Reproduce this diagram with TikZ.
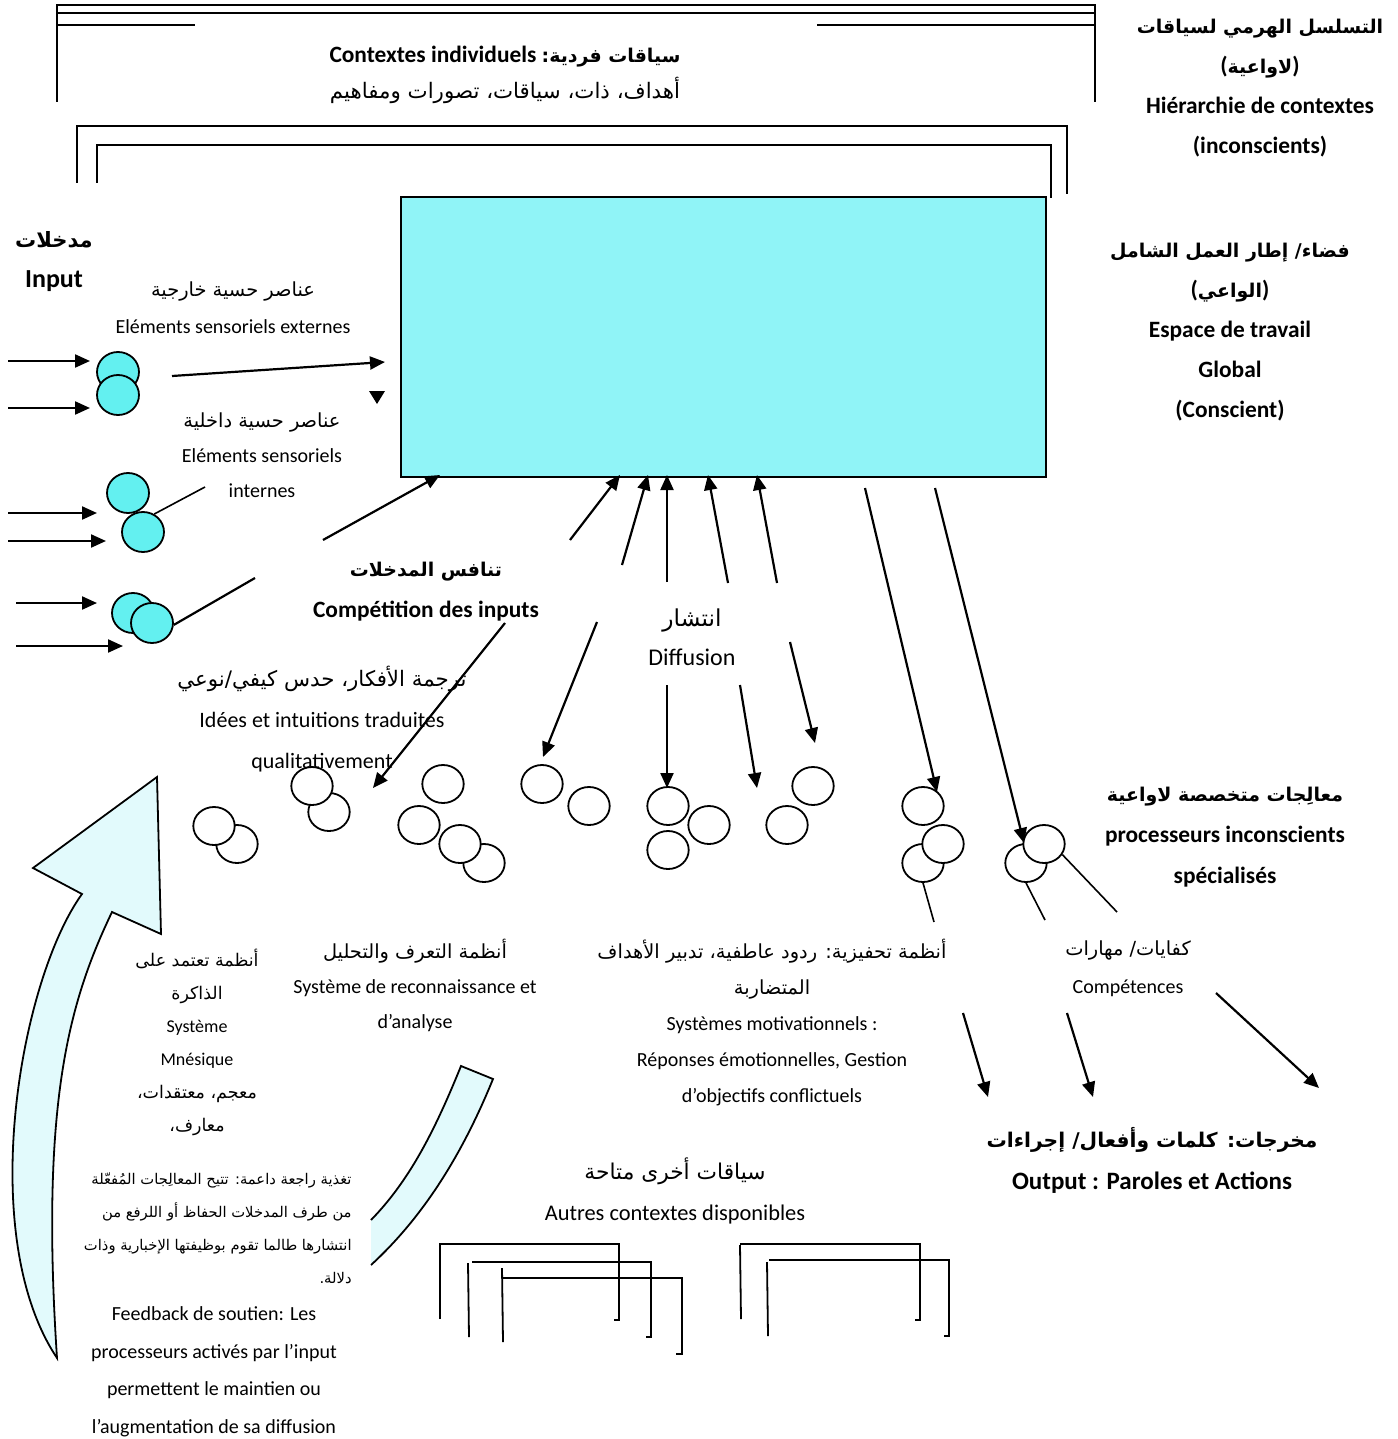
\documentclass[tikz,border=0pt]{standalone}
\usepackage{fontspec}
\setmainfont{Carlito}
\newfontfamily\arabicfont[Script=Arabic,Scale=0.97]{DejaVu Sans}
\newfontfamily\arabicbf[Script=Arabic,Scale=0.81]{DejaVu Sans Bold}
\TeXXeTstate=1
\usetikzlibrary{arrows.meta,shapes.geometric}
\definecolor{gwscyan}{RGB}{144,244,247}
\definecolor{inpcyan}{RGB}{99,240,240}
\definecolor{fbcyan}{RGB}{226,250,252}
\newcommand{\artxt}[1]{{\arabicfont\beginR #1\endR}}
\newcommand{\artxtb}[1]{{\arabicbf\beginR #1\endR}}

\begin{document}
\begin{tikzpicture}[x=0.5pt,y=-0.5pt,
    lbl/.style={align=center,inner sep=0pt,font=\fontsize{10}{#1}\selectfont},
    lbl/.default=19,
    blbl/.style={align=center,inner sep=0pt,font=\fontsize{11.7}{#1}\selectfont\bfseries},
    blbl/.default=20,
    small/.style={align=center,inner sep=0pt,font=\fontsize{9}{#1}\selectfont},
    small/.default=17,
    arr/.style={-{Triangle[length=7.5pt,width=6.5pt]},line width=1.1pt},
    frm/.style={line width=0.9pt},
    thinln/.style={line width=0.7pt},
    proc/.style={ellipse,draw,fill=white,line width=0.9pt,minimum width=20.7pt,minimum height=19pt,inner sep=0pt},
    inp/.style={proc,fill=inpcyan,minimum width=21pt,minimum height=20pt},
    fbarrow/.style={fill=fbcyan,draw,line width=0.9pt}]
\useasboundingbox (0,0) rectangle (1397,1439);

% feedback arrows
\draw[fbarrow] (57,1358) .. controls (-25,1235) and (20,980) .. (82,894) -- (33,868) -- (157,777)
    -- (161,934) -- (112,912) .. controls (70,1000) and (40,1100) .. (57,1358) -- cycle;
\fill[fbcyan] (371,1220) .. controls (410,1180) and (435,1130) .. (461,1066) -- (493,1079)
    .. controls (460,1160) and (420,1220) .. (371,1265) -- cycle;
\draw[line width=0.9pt] (371,1220) .. controls (410,1180) and (435,1130) .. (461,1066) -- (493,1079)
    .. controls (460,1160) and (420,1220) .. (371,1265);

% context frames (top)
\draw[frm] (57,102) -- (57,5) -- (1095,5) -- (1095,102);
\draw[frm] (57,13) -- (1095,13);
\draw[thinln] (57,25) -- (195,25) (817,25) -- (1095,25);
\draw[frm] (77,183) -- (77,126) -- (1067,126) -- (1067,194);
\draw[frm] (97,183) -- (97,145) -- (1051,145) -- (1051,198);

% other contexts (bottom)
\draw[frm] (440,1319) -- (440,1244) -- (619,1244) -- (619,1320) -- (614,1320);
\draw[frm] (468,1263) -- (469,1337) (472,1262) -- (651,1262) -- (651,1337) -- (646,1337);
\draw[frm] (502,1268) -- (503,1342) (502,1278) -- (682,1278) -- (682,1354) -- (676,1354);
\draw[frm] (740,1245) -- (741,1319) (740,1244) -- (920,1244) -- (920,1320) -- (915,1320);
\draw[frm] (767,1262) -- (768,1336) (769,1260) -- (949,1260) -- (949,1336) -- (944,1336);

% global workspace
\node[draw,fill=gwscyan,line width=0.9pt,minimum width=322.5pt,minimum height=140pt,inner sep=0pt] (gws) at (723.5,337) {};

% input elements
\node[inp] (c1a) at (118,372) {};
\node[inp] (c1b) at (118,395) {};
\node[inp] (c2a) at (128,493) {};
\node[inp] (c2b) at (143,532) {};
\node[inp] (c3a) at (133,613) {};
\node[inp] (c3b) at (152,623) {};

% unconscious processors
\node[proc] (p1b) at (237,844) {};
\node[proc] (p1a) at (214,826) {};
\node[proc] (p2b) at (329,812) {};
\node[proc] (p2a) at (312,786) {};
\node[proc] (p3) at (443,784) {};
\node[proc] (p4) at (419,825) {};
\node[proc] (p5b) at (484,863) {};
\node[proc] (p5a) at (460,844) {};
\node[proc] (p6a) at (542,784) {};
\node[proc] (p6b) at (589,806) {};
\node[proc] (p7a) at (668,806) {};
\node[proc] (p7b) at (709,825) {};
\node[proc] (p7c) at (668,850) {};
\node[proc] (p8a) at (813,786) {};
\node[proc] (p8b) at (787,825) {};
\node[proc] (p9a) at (923,806) {};
\node[proc] (p9c) at (923,863) {};
\node[proc] (p9b) at (943,844) {};
\node[proc] (p10b) at (1026,863) {};
\node[proc] (p10a) at (1044,844) {};

% input arrows
\foreach \n/\xa/\ya/\xb/\yb in {1/8/361/90/361, 2/8/408/90/408, 3/8/513/97/513,
    4/8/541/106/541, 5/16/603/97/603, 6/16/646/123/646}{
  \coordinate (in\n s) at (\xa,\ya);
  \coordinate (in\n e) at (\xb,\yb);
  \draw[arr] (in\n s) -- (in\n e);
}

% towards the workspace
\coordinate (exts) at (172,376);
\coordinate (exte) at (385,362);
\draw[arr] (exts) -- (exte);
\fill (369,391) -- (385,391) -- (377,404) -- cycle;
\coordinate (intend) at (205,487);
\draw[line width=0.8pt] (c2b.58) -- (intend);
\coordinate (cmpa) at (255,578);
\draw[line width=1.1pt] (c3b.-5) -- (cmpa);
\coordinate (cmpb) at (323,540);
\coordinate (cmpc) at (440,475);
\draw[arr] (cmpb) -- (cmpc);
\coordinate (idees) at (505,623);
\coordinate (ideee) at (373,788);
\draw[arr] (idees) -- (ideee);

% diffusion up
\foreach \n/\xa/\ya/\xb/\yb in {1/570/540/620/475, 2/622/565/648/475, 3/667/582/667/475,
    4/728/583/708/475, 5/777/583/757/475}{
  \coordinate (up\n s) at (\xa,\ya);
  \coordinate (up\n e) at (\xb,\yb);
  \draw[arr] (up\n s) -- (up\n e);
}
% diffusion down
\foreach \n/\xa/\ya/\xb/\yb in {1/597/622/543/757, 2/667/685/667/788, 3/740/685/757/788,
    4/790/642/815/743, 5/865/488/937/792, 6/935/488/1024/843}{
  \coordinate (dn\n s) at (\xa,\ya);
  \coordinate (dn\n e) at (\xb,\yb);
  \draw[arr] (dn\n s) -- (dn\n e);
}

% processors towards output
\coordinate (q1) at (934,922);
\coordinate (q2) at (1045,920);
\coordinate (q3) at (1117,912);
\draw[line width=0.8pt] (p9c.south) -- (q1);
\draw[line width=0.8pt] (p10b.south) -- (q2);
\draw[line width=0.8pt] (p10a.-30) -- (q3);
\foreach \n/\xa/\ya/\xb/\yb in {1/963/1013/988/1097, 2/1067/1013/1093/1097, 3/1216/993/1319/1088}{
  \coordinate (out\n s) at (\xa,\ya);
  \coordinate (out\n e) at (\xb,\yb);
  \draw[arr] (out\n s) -- (out\n e);
}

% labels
\node[blbl=18] (ctxind) at (505,75) {Contextes individuels \artxtb{سياقات فردية:}\\
    \mdseries\fontsize{11}{18}\selectfont\artxt{أهداف، ذات، سياقات، تصورات ومفاهيم}};
\node[blbl] (hier) at (1260,88) {\artxtb{التسلسل الهرمي لسياقات}\\ (\artxtb{لاواعية})\\
    Hiérarchie de contextes\\ (inconscients)};
\node[blbl] (gwslbl) at (1230,332) {\artxtb{فضاء/ إطار العمل الشامل}\\ (\artxtb{الواعي})\\
    Espace de travail\\ Global\\ (Conscient)};
\node[blbl,font=\fontsize{13}{20}\selectfont\bfseries] (inlbl) at (54,262) {\artxtb{مدخلات}\\ Input};
\node[lbl=18.5] (extlbl) at (233,308) {\artxt{عناصر حسية خارجية}\\ Eléments sensoriels externes};
\node[lbl=17.5] (intlbl) at (262,455) {\artxt{عناصر حسية داخلية}\\ Eléments sensoriels\\ internes};
\node[blbl=20.5] (cmplbl) at (426,592) {\artxtb{تنافس المدخلات}\\ Compétition des inputs};
\node[lbl,font=\fontsize{12}{19.5}\selectfont] (difflbl) at (692,637) {\artxt{انتشار}\\ Diffusion};
\node[lbl,font=\fontsize{11}{20.5}\selectfont] (ideelbl) at (322,719) {\artxt{ترجمة الأفكار، حدس كيفي/نوعي}\\
    Idées et intuitions traduites\\ qualitativement};
\node[blbl=20.5] (proclbl) at (1225,837) {\artxtb{معالِجات متخصصة لاواعية}\\
    processeurs inconscients\\ spécialisés};
\node[small=16.5] (mneslbl) at (197,1042) {\artxt{أنظمة تعتمد على}\\ \artxt{الذاكرة}\\
    Système\\ Mnésique\\ \artxt{معجم، معتقدات،}\\ \artxt{معارف،}};
\node[lbl=17.5] (recolbl) at (415,985) {\artxt{أنظمة التعرف والتحليل}\\
    Système de reconnaissance et\\ d’analyse};
\node[lbl=18] (motivlbl) at (772,1023) {\artxt{أنظمة تحفيزية: ردود عاطفية، تدبير الأهداف}\\
    \artxt{المتضاربة}\\ Systèmes motivationnels :\\ Réponses émotionnelles, Gestion\\
    d’objectifs conflictuels};
\node[lbl] (compet) at (1128,969) {\artxt{كفايات/ مهارات}\\ Compétences};
\node[blbl,font=\fontsize{12.5}{21}\selectfont\bfseries] (outlbl) at (1152,1160) {\artxtb{مخرجات: كلمات وأفعال/ إجراءات}\\
    Output : Paroles et Actions};
\node[lbl,font=\fontsize{11.2}{20.5}\selectfont] (autlbl) at (675,1191) {\artxt{سياقات أخرى متاحة}\\ Autres contextes disponibles};
\node[align=right,inner sep=0pt,font=\fontsize{7.6}{16.5}\selectfont,anchor=east] (fbar) at (352,1228)
    {\artxt{تغذية راجعة داعمة: تتيح المعالِجات المُفعّلة}\\
     \artxt{من طرف المدخلات الحفاظ أو اللرفع من}\\
     \artxt{انتشارها طالما تقوم بوظيفتها الإخبارية وذات}\\
     \artxt{دلالة.}};
\node[small,font=\fontsize{10}{18.75}\selectfont] (fbfr) at (214,1372) {Feedback de soutien: Les\\ processeurs activés par l’input\\
    permettent le maintien ou\\ l’augmentation de sa diffusion};
\end{tikzpicture}
\end{document}
